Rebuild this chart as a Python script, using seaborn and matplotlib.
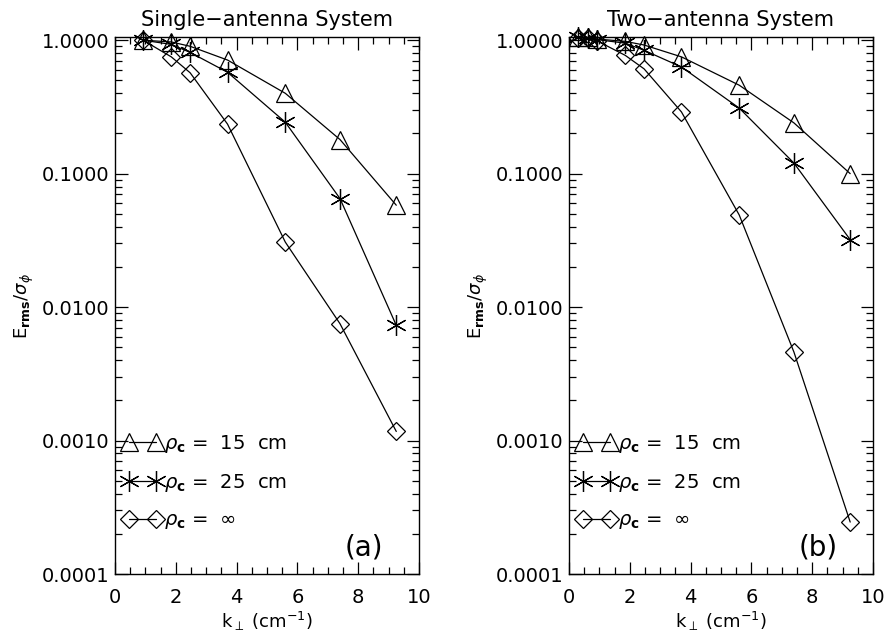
import matplotlib
matplotlib.use("Agg")
import matplotlib.pyplot as plt
from matplotlib.ticker import MultipleLocator, LogLocator, FixedLocator, NullFormatter
import seaborn as sns
import pandas as pd

# k_perp values (cm^-1)
k_single = [0.92, 1.85, 2.47, 3.7, 5.6, 7.4, 9.25]
k_two = [0.31, 0.62, 0.92, 1.85, 2.47, 3.7, 5.6, 7.4, 9.25]

# (a) single-antenna system
single_15 = [1.0, 0.97, 0.90, 0.71, 0.40, 0.18, 0.058]
single_25 = [1.0, 0.93, 0.81, 0.575, 0.243, 0.065, 0.0073]
single_inf = [1.0, 0.75, 0.57, 0.235, 0.0307, 0.0075, 0.00117]

# (b) two-antenna system
two_15 = [1.05, 1.05, 1.02, 0.98, 0.92, 0.75, 0.46, 0.24, 0.10]
two_25 = [1.05, 1.04, 1.01, 0.95, 0.84, 0.63, 0.31, 0.12, 0.032]
two_inf = [1.04, 1.03, 0.99, 0.77, 0.61, 0.29, 0.049, 0.0046, 0.000245]

labels = [r'$\rho_\mathbf{c}$ =  15  cm', r'$\rho_\mathbf{c}$ =  25  cm', r'$\rho_\mathbf{c}$ =  $\infty$']
markers = ['^', (6, 2, 0), 'D']
msizes = [13, 15, 9]

titles = ['Single\u2212antenna System', 'Two\u2212antenna System']
panels = ['(a)', '(b)']

sns.set_style('ticks')
plt.rcParams['font.family'] = ['DejaVu Sans']
plt.rcParams['mathtext.fontset'] = 'dejavusans'
plt.rcParams['xtick.direction'] = 'in'
plt.rcParams['ytick.direction'] = 'in'
plt.rcParams['axes.linewidth'] = 1.0
plt.rcParams['text.color'] = 'black'
plt.rcParams['axes.labelcolor'] = 'black'
plt.rcParams['xtick.color'] = 'black'
plt.rcParams['ytick.color'] = 'black'

fig = plt.figure(figsize=(8.89, 6.38), dpi=100)
ax_a = fig.add_axes([0.1294, 0.1003, 0.342, 0.842])
ax_b = fig.add_axes([0.640, 0.1003, 0.342, 0.842])

datasets = [(k_single, [single_15, single_25, single_inf]),
            (k_two, [two_15, two_25, two_inf])]

for ax, (k, series), title, panel in zip([ax_a, ax_b], datasets, titles, panels):
    ax.set_yscale('log')
    for vals, lab, mk, ms in zip(series, labels, markers, msizes):
        df = pd.DataFrame({'k': k, 'E': vals})
        sns.lineplot(data=df, x='k', y='E', ax=ax, color='black', lw=0.9,
                     marker=mk, ms=ms, mfc='none', mec='black', mew=0.9,
                     sort=False, label=lab, clip_on=False)
    ax.set_xlim(0, 10)
    ax.set_ylim(1e-4, 1.06)
    ax.xaxis.set_major_locator(MultipleLocator(2))
    ax.xaxis.set_minor_locator(MultipleLocator(0.5))
    ax.yaxis.set_major_locator(FixedLocator([1e-4, 1e-3, 1e-2, 1e-1, 1.0]))
    ax.yaxis.set_minor_locator(LogLocator(base=10, subs=range(2, 10)))
    ax.yaxis.set_minor_formatter(NullFormatter())
    ax.set_yticklabels(['0.0001', '0.0010', '0.0100', '0.1000', '1.0000'])
    ax.tick_params(which='both', top=True, right=True, labelsize=14, width=0.9)
    ax.tick_params(axis='x', which='major', length=9, pad=10)
    ax.tick_params(axis='x', which='minor', length=5)
    ax.tick_params(axis='y', which='major', length=9, pad=4)
    ax.tick_params(axis='y', which='minor', length=5)
    ax.set_title(title, fontsize=15, pad=8)
    ax.set_xlabel(r'k$_\perp$ (cm$^{-1}$)', fontsize=13, labelpad=2)
    ax.set_ylabel(r'E$_{\mathbf{rms}}$/$\sigma_\phi$', fontsize=13, labelpad=4)
    ax.text(0.82, 0.05, panel, transform=ax.transAxes, fontsize=20,
            ha='center', va='center')
    ax.legend(loc='lower left', bbox_to_anchor=(0.0, 0.065), frameon=False,
              numpoints=2, handlelength=2.0, handletextpad=0.1,
              labelspacing=0.85, fontsize=14, borderaxespad=0.0)
    for sp in ax.spines.values():
        sp.set_color('black')

fig.savefig('out.png', dpi=100, facecolor='white')
